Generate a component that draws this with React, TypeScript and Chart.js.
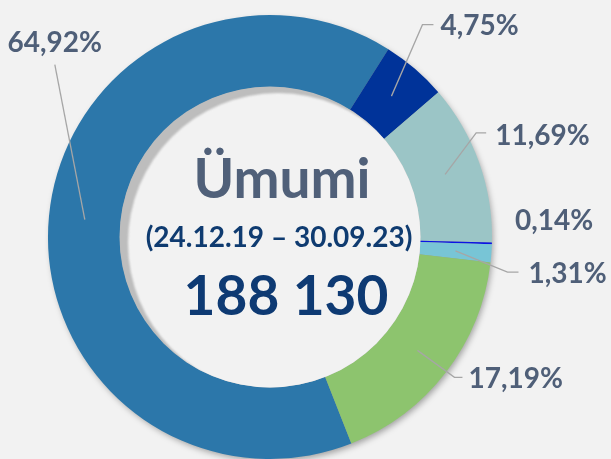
import React, { useEffect, useRef } from 'react';
import { Chart, registerables } from 'chart.js';

Chart.register(...registerables);

// ---- data ----
const categories = ['Seqment 1', 'Seqment 2', 'Seqment 3', 'Seqment 4', 'Seqment 5', 'Seqment 6'];
const shares = [64.92, 4.75, 11.69, 0.14, 1.31, 17.19];
const sliceColors = ['#2C77AA', '#003399', '#9BC5C6', '#0A14E6', '#78C5D6', '#8DC46E'];
const centerTitle = 'Ümumi';
const centerPeriod = '(24.12.19 – 30.09.23)';
const centerTotal = '188 130';

// ---- label layout (styling): elbow offset from slice anchor, horizontal tail, text offset from line end ----
type LabelStyle = { ex: number; ey: number; tail: number; tx: number; ty: number; align: CanvasTextAlign; line: boolean };
const labelStyles: LabelStyle[] = [
  { ex: -30, ey: -155, tail: 0, tx: 0, ty: -13, align: 'center', line: true },
  { ex: 31, ey: -71.5, tail: 11, tx: 7, ty: 10, align: 'left', line: true },
  { ex: 31, ey: -41.6, tail: 10, tx: 9, ty: 12, align: 'left', line: true },
  { ex: 59, ey: -12, tail: 0, tx: 0, ty: 0, align: 'left', line: false },
  { ex: 52, ey: 21.3, tail: 11, tx: 10, ty: 11, align: 'left', line: true },
  { ex: 37, ey: 27, tail: 8, tx: 6, ty: 11, align: 'left', line: true },
];

const fmtPct = (v: number) => v.toFixed(2).replace('.', ',') + '%';

const decorPlugin = {
  id: 'decor',
  beforeDatasetsDraw(chart: any) {
    const arc = chart.getDatasetMeta(0).data[0];
    if (!arc) return;
    const { x, y, outerRadius } = arc;
    const ctx = chart.ctx as CanvasRenderingContext2D;
    ctx.save();
    ctx.shadowColor = 'rgba(0,0,0,0.35)';
    ctx.shadowBlur = 6;
    ctx.shadowOffsetX = 2;
    ctx.shadowOffsetY = 3;
    ctx.fillStyle = '#9a9a9a';
    ctx.beginPath();
    ctx.arc(x, y, outerRadius - 1, 0, Math.PI * 2);
    ctx.fill();
    ctx.restore();
  },
  afterDatasetsDraw(chart: any) {
    const arc = chart.getDatasetMeta(0).data[0];
    if (!arc) return;
    const { x, y, innerRadius } = arc;
    const ctx = chart.ctx as CanvasRenderingContext2D;
    ctx.save();
    ctx.beginPath();
    ctx.arc(x, y, innerRadius + 0.5, 0, Math.PI * 2);
    ctx.clip();
    ctx.fillStyle = '#BDBDBD';
    ctx.fillRect(x - innerRadius - 2, y - innerRadius - 2, innerRadius * 2 + 4, innerRadius * 2 + 4);
    ctx.filter = 'blur(1px)';
    ctx.fillStyle = '#F2F2F2';
    ctx.beginPath();
    ctx.arc(x + 8, y + 6, innerRadius, 0, Math.PI * 2);
    ctx.fill();
    ctx.restore();
  },
  afterDraw(chart: any) {
    const meta = chart.getDatasetMeta(0);
    const arcs = meta.data;
    if (!arcs.length) return;
    const ctx = chart.ctx as CanvasRenderingContext2D;
    const cx = arcs[0].x;
    const cy = arcs[0].y;

    // labels with leader lines
    ctx.save();
    arcs.forEach((a: any, i: number) => {
      const st = labelStyles[i];
      const mid = (a.startAngle + a.endAngle) / 2;
      const r = (a.innerRadius + a.outerRadius) / 2;
      const ax = a.x + Math.cos(mid) * r;
      const ay = a.y + Math.sin(mid) * r;
      const bx = ax + st.ex;
      const by = ay + st.ey;
      const tx2 = st.tail ? bx + st.tail : bx;
      if (st.line) {
        ctx.strokeStyle = '#A6A6A6';
        ctx.lineWidth = 1.3;
        ctx.beginPath();
        ctx.moveTo(ax, ay);
        ctx.lineTo(bx, by);
        if (st.tail) ctx.lineTo(tx2, by);
        ctx.stroke();
      }
      ctx.font = 'bold 28px Lato';
      ctx.fillStyle = '#4F5F78';
      ctx.textAlign = st.align;
      ctx.textBaseline = 'alphabetic';
      ctx.fillText(fmtPct(shares[i]), tx2 + st.tx, by + st.ty);
    });
    ctx.restore();

    // center text
    ctx.save();
    ctx.textAlign = 'center';
    ctx.textBaseline = 'alphabetic';
    ctx.fillStyle = '#506079';
    ctx.font = 'bold 55px Lato';
    ctx.fillText(centerTitle, cx + 12, cy - 39);
    ctx.fillStyle = '#0F3B70';
    ctx.font = 'bold 28px Lato';
    ctx.fillText(centerPeriod, cx + 9, cy + 10);
    ctx.fillStyle = '#0E3A73';
    ctx.font = 'bold 55px Lato';
    ctx.fillText(centerTotal, cx + 16, cy + 78);
    ctx.restore();
  },
};

export default function App() {
  const ref = useRef<HTMLCanvasElement | null>(null);
  useEffect(() => {
    document.body.style.margin = '0';
    document.body.style.background = '#F2F2F2';
    const canvas = ref.current;
    if (!canvas) return;
    const chart = new Chart(canvas, {
      type: 'doughnut',
      data: {
        labels: categories,
        datasets: [
          {
            data: shares,
            backgroundColor: sliceColors,
            borderWidth: 0,
            hoverOffset: 0,
          },
        ],
      },
      options: {
        responsive: false,
        devicePixelRatio: 1,
        animation: false,
        events: [],
        rotation: 158.5,
        radius: 222,
        cutout: 150,
        layout: { padding: { left: 48, right: 119, top: 15, bottom: 0 } },
        plugins: { legend: { display: false }, tooltip: { enabled: false } },
      } as any,
      plugins: [decorPlugin],
    });
    return () => chart.destroy();
  }, []);
  return (
    <div style={{ width: 611, height: 459, background: '#F2F2F2', overflow: 'hidden' }}>
      <canvas ref={ref} width={611} height={459} style={{ display: 'block' }} />
    </div>
  );
}
